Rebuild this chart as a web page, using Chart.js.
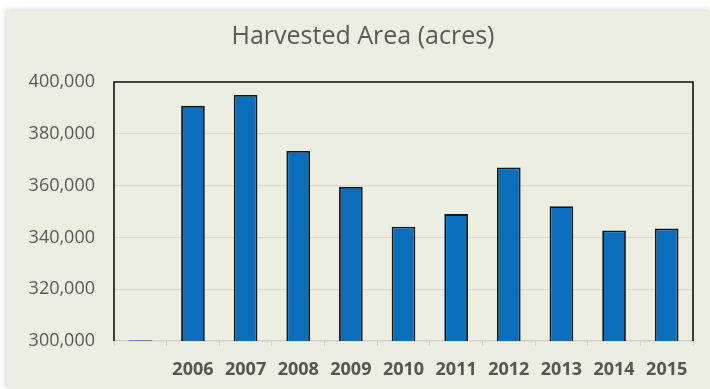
<!DOCTYPE html>
<html>
<head>
<meta charset="utf-8">
<script src="https://cdn.jsdelivr.net/npm/chart.js@4/dist/chart.umd.min.js"></script>
<style>
  html, body { margin: 0; padding: 0; background: #ffffff; }
  #wrap { width: 710px; height: 389px; position: relative; }
</style>
</head>
<body>
<div id="wrap"><canvas id="c" width="710" height="389"></canvas></div>
<script>
const chartTitle = "Harvested Area (acres)";
const categories = ["", "2006", "2007", "2008", "2009", "2010", "2011", "2012", "2013", "2014", "2015"];
const harvestedArea = [300400, 390800, 395000, 373400, 359500, 344100, 349000, 367000, 352000, 342700, 343400];
const yTicks = [300000, 320000, 340000, 360000, 380000, 400000];

const panelPlugin = {
  id: 'panel',
  beforeDraw(chart) {
    const ctx = chart.ctx;
    ctx.save();
    ctx.fillStyle = '#ffffff';
    ctx.fillRect(0, 0, chart.width, chart.height);
    ctx.shadowColor = 'rgba(0,0,0,0.18)';
    ctx.shadowBlur = 6;
    ctx.shadowOffsetX = -1;
    ctx.shadowOffsetY = -1;
    ctx.fillStyle = '#eceee1';
    ctx.fillRect(7, 11, chart.width - 7, chart.height - 11);
    ctx.restore();
  },
  afterDraw(chart) {
    const ctx = chart.ctx;
    const a = chart.chartArea;
    ctx.save();
    ctx.strokeStyle = '#111111';
    ctx.lineWidth = 1.6;
    ctx.beginPath();
    ctx.moveTo(a.left, a.bottom);
    ctx.lineTo(a.left, a.top);
    ctx.lineTo(a.right, a.top);
    ctx.lineTo(a.right, a.bottom);
    ctx.stroke();
    ctx.fillStyle = '#595959';
    ctx.font = '25px "Open Sans"';
    ctx.textAlign = 'center';
    ctx.textBaseline = 'middle';
    ctx.fillText(chartTitle, 363, 37);
    ctx.restore();
  }
};

new Chart(document.getElementById('c'), {
  type: 'bar',
  data: {
    labels: categories,
    datasets: [{
      data: harvestedArea,
      backgroundColor: categories.map((c, i) => i === 0 ? '#6a86a2' : '#0a6ebd'),
      borderColor: '#151515',
      borderWidth: categories.map((c, i) => i === 0 ? 0 : 1.8),
      borderSkipped: 'start',
      minBarLength: 1.5,
      barPercentage: 0.45,
      categoryPercentage: 1.0
    }]
  },
  options: {
    responsive: false,
    animation: false,
    devicePixelRatio: 1,
    layout: { padding: { left: 7, top: 82, right: 17, bottom: 0 } },
    plugins: {
      legend: { display: false },
      title: { display: false },
      tooltip: { enabled: false }
    },
    scales: {
      x: {
        offset: true,
        grid: {
          offset: true,
          drawOnChartArea: false,
          drawTicks: true,
          tickLength: 5,
          color: '#cfcfc8',
          lineWidth: 1
        },
        border: { display: true, color: '#cfcfc8', width: 1.2 },
        ticks: {
          color: '#555555',
          font: { family: '"Open Sans"', size: 18, weight: 'bold' },
          padding: 13,
          maxRotation: 0,
          autoSkip: false
        },
        afterFit(scale) { scale.height = 48; }
      },
      y: {
        min: 300000,
        max: 400000,
        afterBuildTicks(scale) { scale.ticks = yTicks.map(v => ({ value: v })); },
        grid: {
          drawTicks: false,
          color: '#d8d9cf',
          lineWidth: 1.3
        },
        border: { display: false },
        ticks: {
          color: '#595959',
          font: { family: '"Open Sans"', size: 18 },
          padding: 19,
          callback: (v) => v.toLocaleString('en-US')
        },
        afterFit(scale) { scale.width = 107; }
      }
    }
  },
  plugins: [panelPlugin]
});
</script>
</body>
</html>
